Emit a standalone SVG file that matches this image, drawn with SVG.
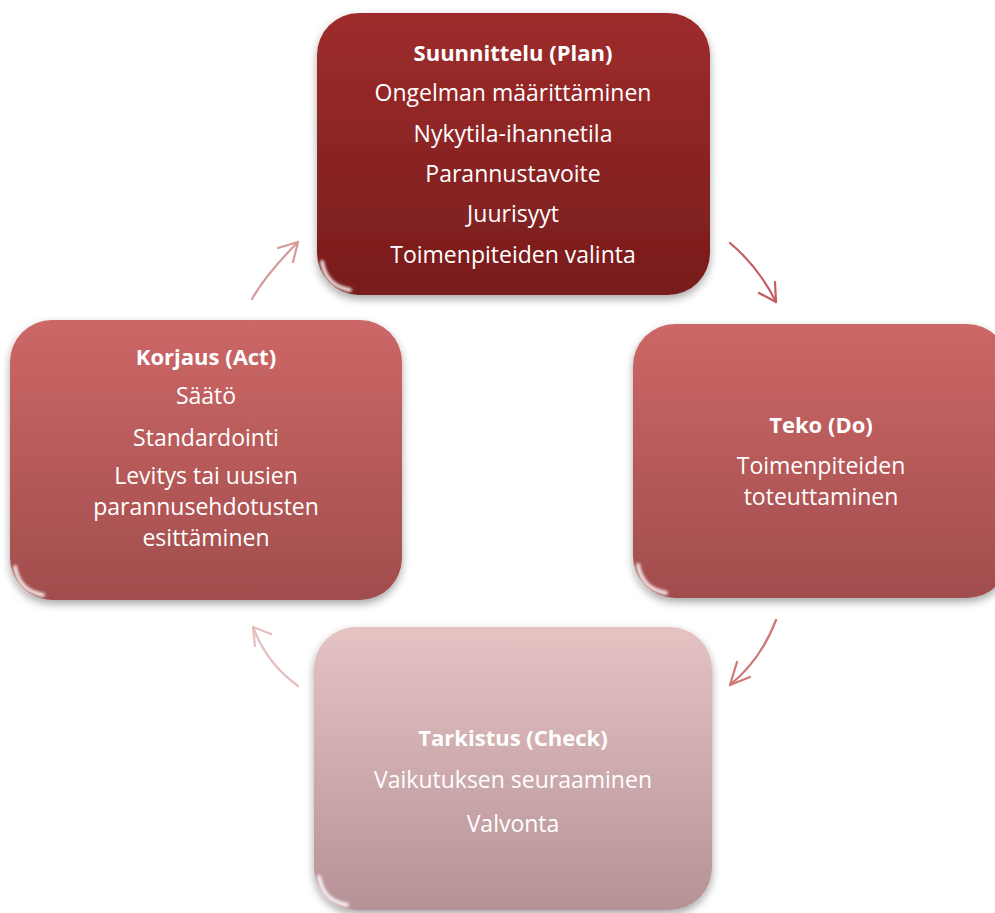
<svg xmlns="http://www.w3.org/2000/svg" width="995" height="913" viewBox="0 0 995 913">
<defs>
<linearGradient id="gPlan" x1="0" y1="0" x2="0" y2="1"><stop offset="0" stop-color="#9e2c2c"/><stop offset="1" stop-color="#781c1c"/></linearGradient>
<linearGradient id="gMid" x1="0" y1="0" x2="0" y2="1"><stop offset="0" stop-color="#cd6767"/><stop offset="1" stop-color="#a14d4d"/></linearGradient>
<linearGradient id="gCheck" x1="0" y1="0" x2="0" y2="1"><stop offset="0" stop-color="#e5c3c3"/><stop offset="1" stop-color="#b69297"/></linearGradient>
<filter id="shadow" x="-10%" y="-10%" width="120%" height="125%"><feDropShadow dx="0" dy="4" stdDeviation="4" flood-color="#000" flood-opacity="0.35"/></filter>
<filter id="blur" x="-20%" y="-20%" width="140%" height="140%"><feGaussianBlur stdDeviation="1.5"/></filter>
</defs>
<style>
text{font-family:"Open Sans","Liberation Sans",sans-serif;font-size:23px;fill:#fff;text-anchor:middle}
.t{font-weight:bold;font-size:22px}
.hl{fill:none;stroke:#fff;stroke-opacity:0.3;stroke-width:4;filter:url(#blur)}
.gl{fill:none;stroke:#fff;stroke-opacity:0.9;stroke-width:4;stroke-linecap:round;filter:url(#blur)}
.arr{fill:none;stroke-width:2.2;stroke-linecap:round;stroke-linejoin:round}
</style>

<g id="connectors">
<g class="arr" stroke="#c45c5e"><path d="M730,243 Q759,267.5 776,302"/><path d="M759,293 L776,302 L775,282"/></g>
<g class="arr" stroke="#cf7676"><path d="M776,620 Q761,659.5 730,685"/><path d="M750,677 L730,685 L737,662"/></g>
<g class="arr" stroke="#e6bebe"><path d="M298,686 Q266.5,663.5 253,627"/><path d="M271,634 L253,627 L255,646"/></g>
<g class="arr" stroke="#d79a9a"><path d="M252,299 Q265,275.5 298,242"/><path d="M278,248 L298,242 L293,262"/></g>
</g>

<g id="plan">
<rect x="317" y="13" width="393" height="282" rx="42" fill="url(#gPlan)" filter="url(#shadow)"/>
<path class="hl" d="M345,19 L682,19"/>
<path class="gl" d="M322,262 Q326,286 350,290"/>
<text x="513" y="61" class="t">Suunnittelu (Plan)</text>
<text x="513" y="101">Ongelman määrittäminen</text>
<text x="513" y="142">Nykytila-ihannetila</text>
<text x="513" y="182">Parannustavoite</text>
<text x="513" y="222">Juurisyyt</text>
<text x="513" y="263">Toimenpiteiden valinta</text>
</g>

<g id="act">
<rect x="10" y="320" width="392" height="280" rx="42" fill="url(#gMid)" filter="url(#shadow)"/>
<path class="hl" d="M38,326 L374,326"/>
<path class="gl" d="M15,567 Q19,591 43,595"/>
<text x="206" y="365" class="t">Korjaus (Act)</text>
<text x="206" y="404">Säätö</text>
<text x="206" y="446">Standardointi</text>
<text x="206" y="484">Levitys tai uusien</text>
<text x="206" y="515">parannusehdotusten</text>
<text x="206" y="546">esittäminen</text>
</g>

<g id="do">
<rect x="633" y="324" width="376" height="274" rx="42" fill="url(#gMid)" filter="url(#shadow)"/>
<path class="hl" d="M661,330 L981,330"/>
<path class="gl" d="M638,565 Q642,589 666,593"/>
<text x="821" y="433" class="t">Teko (Do)</text>
<text x="821" y="474">Toimenpiteiden</text>
<text x="821" y="505">toteuttaminen</text>
</g>

<g id="check">
<rect x="314" y="627" width="398" height="283" rx="42" fill="url(#gCheck)" filter="url(#shadow)"/>
<path class="hl" d="M342,633 L684,633"/>
<path class="gl" d="M319,877 Q323,901 347,905"/>
<text x="513" y="746" class="t">Tarkistus (Check)</text>
<text x="513" y="788">Vaikutuksen seuraaminen</text>
<text x="513" y="832">Valvonta</text>
</g>
</svg>
